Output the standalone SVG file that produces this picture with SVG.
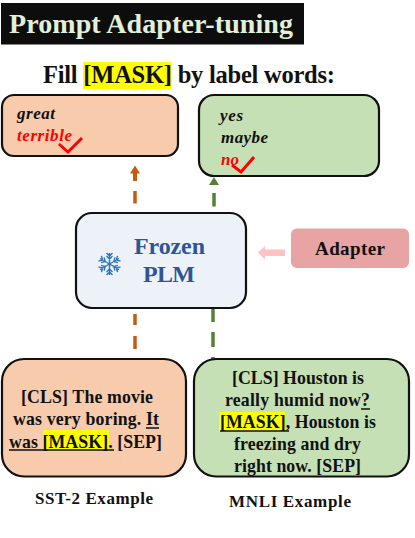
<svg xmlns="http://www.w3.org/2000/svg" width="415" height="538" viewBox="0 0 415 538">
<style>
text{font-family:"Liberation Serif","Times New Roman",serif;font-weight:bold;fill:#111}
.box{stroke:#111;stroke-width:2.200}
.peach{fill:#f7cbac}
.green{fill:#c5e0b4}
.it{font-style:italic;font-size:17px}
.body{font-size:17.800px}
.cap{font-size:17px}
.chk{fill:none;stroke:#f00;stroke-width:3}
.o{stroke:#c55a11;stroke-width:3.5;fill:none}
.g{stroke:#548235;stroke-width:3.5;fill:none}
.u{stroke:#111;stroke-width:1.4}
.y{fill:#ff0}
.fl{stroke:#2e75b6;stroke-width:1.4;fill:none}
</style>
<rect width="415" height="538" fill="#fff"/>
<g id="title">
<rect x="1" y="3" width="303" height="41.500" fill="#0d0d0d"/>
<text x="9" y="33" font-size="28" textLength="284" style="fill:#e2f0d9">Prompt Adapter-tuning</text>
</g>
<g id="heading">
<rect class="y" x="83" y="62" width="88" height="27"/>
<text x="43" y="83" font-size="24.500" textLength="292">Fill [MASK] by label words:</text>
</g>
<g id="connectors">
<path class="o" d="M135 181V172"/><path class="o" d="M135 203.500V191"/><path fill="#c55a11" d="M135 165.500l5 8h-3v7h-4v-7h-3z"/>
<path class="g" d="M214 206.500V193"/><path fill="#548235" d="M214 177l5 8h-10z"/>
<path class="o" d="M135 349V336"/><path class="o" d="M135 325V314"/>
<path class="g" d="M213 322V309"/><path class="g" d="M213 347V332"/><path class="g" d="M213 359V357"/>
<path fill="#ffc2c2" d="M258 252.500l7-6.500v3.500h20v6.500h-20v3.500z"/>
</g>
<g id="label-sst">
<rect class="box peach" x="2" y="95" width="176" height="61" rx="12"/>
<text class="it" x="17" y="119" textLength="38">great</text>
<text class="it" x="17" y="141" textLength="55" style="fill:#f00">terrible</text>
<path class="chk" d="M59 144l9 8 14-14"/>
</g>
<g id="label-mnli">
<rect class="box green" x="199" y="95" width="180" height="81" rx="15"/>
<text class="it" x="220" y="121" textLength="23">yes</text>
<text class="it" x="221" y="143" textLength="47">maybe</text>
<text class="it" x="221" y="165" textLength="18" style="fill:#f00">no</text>
<path class="chk" d="M232 165l9 7 13-15"/>
</g>
<g id="plm">
<rect class="box" x="76" y="213" width="170" height="95" rx="16" fill="#edf2f9"/>
<text x="134" y="254" font-size="24" textLength="71" style="fill:#2f5597">Frozen</text>
<text x="143" y="282" font-size="24" textLength="52" style="fill:#2f5597">PLM</text>
<g class="fl" transform="translate(109.500 264)">
<path d="M0 0V-11M-3 -8L0 -5 3 -8M-3 -11L0 -8 3 -11"/>
<path d="M0 0V-11M-3 -8L0 -5 3 -8M-3 -11L0 -8 3 -11" transform="rotate(60)"/>
<path d="M0 0V-11M-3 -8L0 -5 3 -8M-3 -11L0 -8 3 -11" transform="rotate(120)"/>
<path d="M0 0V-11M-3 -8L0 -5 3 -8M-3 -11L0 -8 3 -11" transform="rotate(180)"/>
<path d="M0 0V-11M-3 -8L0 -5 3 -8M-3 -11L0 -8 3 -11" transform="rotate(240)"/>
<path d="M0 0V-11M-3 -8L0 -5 3 -8M-3 -11L0 -8 3 -11" transform="rotate(300)"/>
</g>
</g>
<g id="adapter">
<rect x="291" y="228.500" width="118" height="39.500" rx="6" fill="#e8a3a3"/>
<text x="315" y="255" font-size="19" textLength="70">Adapter</text>
</g>
<g id="sst-example">
<rect class="box peach" x="2" y="359" width="184" height="117.500" rx="22"/>
<rect class="y" x="43" y="430" width="66" height="19"/>
<text class="body" x="21" y="403" textLength="132">[CLS] The movie</text>
<text class="body" x="13" y="425" textLength="146">was very boring. It</text>
<text class="body" x="9" y="448" textLength="153">was [MASK]. [SEP]</text>
<path class="u" d="M146 428h13M9 450h105"/>
</g>
<g id="mnli-example">
<rect class="box green" x="194" y="359" width="215" height="117.500" rx="22"/>
<rect class="y" x="219" y="412" width="66" height="20"/>
<text class="body" x="232" y="384" textLength="132">[CLS] Houston is</text>
<text class="body" x="225" y="406" textLength="145">really humid now?</text>
<text class="body" x="220" y="428" textLength="156">[MASK], Houston is</text>
<text class="body" x="234" y="450" textLength="127">freezing and dry</text>
<text class="body" x="234" y="472" textLength="127">right now. [SEP]</text>
<path class="u" d="M361 409h9M220 431h69"/>
</g>
<text class="cap" id="cap-sst" x="35" y="504" textLength="118">SST-2 Example</text>
<text class="cap" id="cap-mnli" x="229" y="507" textLength="122">MNLI Example</text>
</svg>
